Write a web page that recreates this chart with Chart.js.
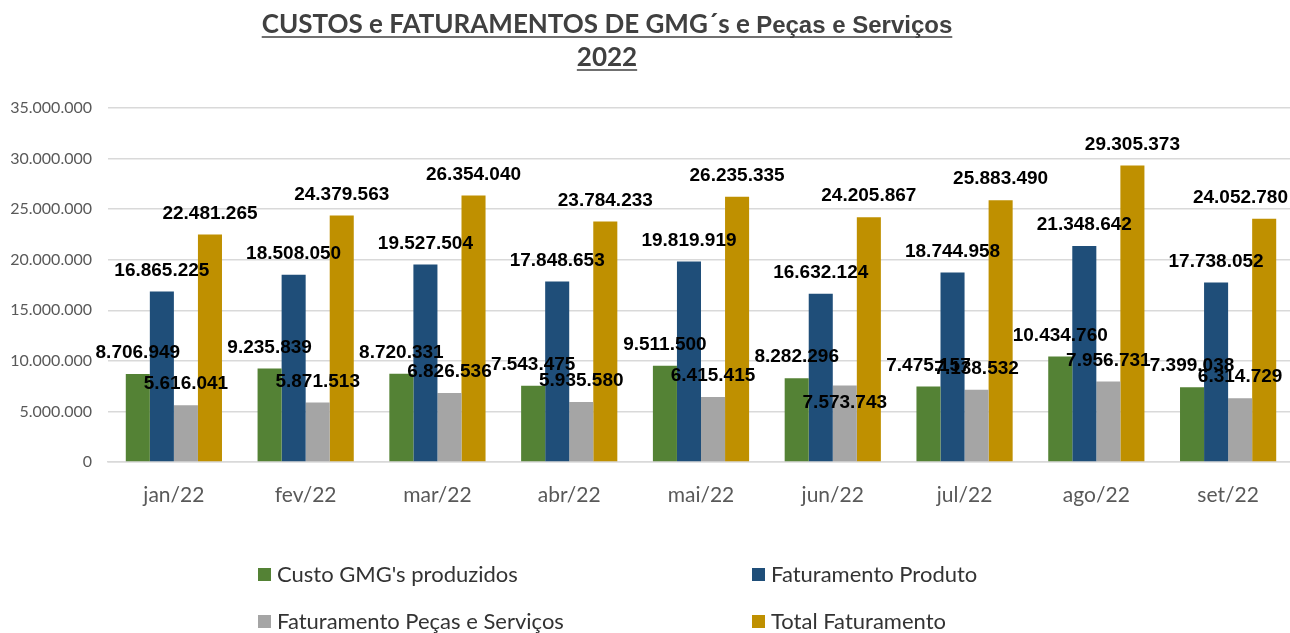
<!DOCTYPE html>
<html>
<head>
<meta charset="utf-8">
<script src="https://cdn.jsdelivr.net/npm/chart.js@4"></script>
<style>
html,body{margin:0;padding:0;background:#fff;overflow:hidden;}
#wrap{width:1300px;height:633px;}
</style>
</head>
<body>
<div id="wrap"><canvas id="chart"></canvas></div>
<script>
const months = ["jan/22","fev/22","mar/22","abr/22","mai/22","jun/22","jul/22","ago/22","set/22"];
const custoGmg = [8706949, 9235839, 8720331, 7543475, 9511500, 8282296, 7475157, 10434760, 7399038];
const fatProduto = [16865225, 18508050, 19527504, 17848653, 19819919, 16632124, 18744958, 21348642, 17738052];
const fatPecas = [5616041, 5871513, 6826536, 5935580, 6415415, 7573743, 7138532, 7956731, 6314729];
const totalFat = [22481265, 24379563, 26354040, 23784233, 26235335, 24205867, 25883490, 29305373, 24052780];
const seriesNames = ["Custo GMG's produzidos","Faturamento Produto","Faturamento Peças e Serviços","Total Faturamento"];
const seriesColors = ["#548235","#1f4e79","#a5a5a5","#bf9000"];
const titleA = "CUSTOS e FATURAMENTOS DE GMG´s e ";
const titleB = "Peças e Serviços";
const titleYear = "2022";
// rotulo dentro da barra: [serie, mes]
const labelsInside = [[2, 5]];

// 1234567 -> 1.234.567
function fmt(v){
  return String(v).replace(/\B(?=(\d{3})+(?!\d))/g, ".");
}

// titulo sublinhado (duas fontes na 1a linha)
const titlePlugin = {
  id:"titleDraw",
  afterDraw(chart){
    const ctx = chart.ctx;
    const cx = 607;
    ctx.save();
    ctx.fillStyle = "#404040";
    ctx.strokeStyle = "#404040";
    ctx.textBaseline = "alphabetic";
    ctx.textAlign = "left";
    const fA = "bold 26px Lato";
    const fB = "bold 24px 'Liberation Sans'";
    ctx.font = fA; const wA = ctx.measureText(titleA).width;
    ctx.font = fB; const wB = ctx.measureText(titleB).width;
    let x = cx - (wA + wB)/2;
    ctx.font = fA; ctx.fillText(titleA, x, 33);
    ctx.font = fB; ctx.fillText(titleB, x + wA, 33);
    ctx.lineWidth = 1.5;
    ctx.beginPath(); ctx.moveTo(x, 37); ctx.lineTo(x + wA + wB, 37); ctx.stroke();
    ctx.font = fA;
    const wY = ctx.measureText(titleYear).width;
    ctx.fillText(titleYear, cx - wY/2, 66);
    ctx.beginPath(); ctx.moveTo(cx - wY/2, 70); ctx.lineTo(cx + wY/2, 70); ctx.stroke();
    ctx.restore();
  }
};

// rotulos de dados acima das barras (mantidos dentro da imagem)
const labelPlugin = {
  id:"barLabels",
  afterDatasetsDraw(chart){
    const ctx = chart.ctx;
    ctx.save();
    ctx.font = "bold 19px 'Liberation Sans'";
    ctx.fillStyle = "#000";
    ctx.textAlign = "center";
    ctx.textBaseline = "middle";
    chart.data.datasets.forEach((ds,i)=>{
      chart.getDatasetMeta(i).data.forEach((bar,j)=>{
        const txt = fmt(ds.data[j]);
        const w = ctx.measureText(txt).width;
        let x = bar.x;
        if(x + w/2 > 1288) x = 1288 - w/2;
        const inside = labelsInside.some(p=>p[0]===i && p[1]===j);
        ctx.fillText(txt, x, inside ? bar.y + 17 : bar.y - 21);
      });
    });
    ctx.restore();
  }
};

// legenda 2x2
const legendPlugin = {
  id:"gridLegend",
  afterDraw(chart){
    const ctx = chart.ctx;
    const cols = [258, 752], rows = [575, 622];
    ctx.save();
    ctx.font = "22px Lato";
    ctx.textBaseline = "middle";
    ctx.textAlign = "left";
    chart.data.datasets.forEach((ds,i)=>{
      const x = cols[i%2], y = rows[Math.floor(i/2)];
      ctx.fillStyle = ds.backgroundColor;
      ctx.fillRect(x, y-7, 13, 13);
      ctx.fillStyle = "#333333";
      ctx.fillText(ds.label, x + 19, y);
    });
    ctx.restore();
  }
};

const datasets = [custoGmg, fatProduto, fatPecas, totalFat].map((d,i)=>({
  label: seriesNames[i],
  data: d,
  backgroundColor: seriesColors[i],
  categoryPercentage: 0.73,
  barPercentage: 1.0
}));

new Chart(document.getElementById("chart"), {
  type:"bar",
  data:{labels: months, datasets},
  options:{
    responsive:true,
    maintainAspectRatio:false,
    animation:false,
    layout:{padding:{top:108, bottom:123, left:0, right:6}},
    plugins:{legend:{display:false}, title:{display:false}, tooltip:{enabled:false}},
    scales:{
      x:{
        grid:{display:false},
        border:{color:"#d9d9d9", width:1.5},
        ticks:{color:"#595959", font:{family:"Lato", size:21}, padding:13},
        afterFit(s){ s.height = 48; }
      },
      y:{
        min:0, max:35000000,
        grid:{color:"#d9d9d9", lineWidth:1.5, drawTicks:false},
        border:{display:false},
        ticks:{stepSize:5000000, color:"#595959", font:{family:"Lato", size:16}, padding:16, callback:v=>fmt(v)},
        afterFit(s){ s.width = 108; }
      }
    }
  },
  plugins:[titlePlugin, labelPlugin, legendPlugin]
});
</script>
</body>
</html>
